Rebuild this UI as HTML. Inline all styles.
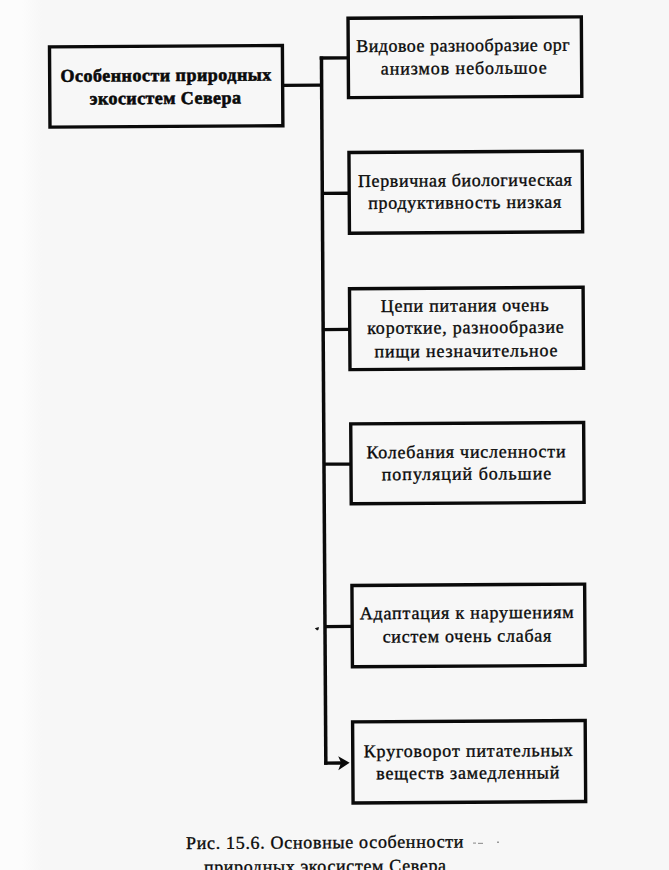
<!DOCTYPE html>
<html><head><meta charset="utf-8"><style>
html,body{margin:0;padding:0;background:#f8f8f8;}
body{background:linear-gradient(to right,#fcfcfc 0px,#fcfcfc 22px,#f7f7f7 42px,#f7f7f7 100%);}
body{width:669px;height:870px;overflow:hidden;position:relative;}
svg{position:absolute;left:0;top:0;}
.b{fill:none;stroke:#0a0a0a;stroke-width:3.4;}
.c{stroke:#0a0a0a;stroke-width:3.3;}
text{font-family:"Liberation Serif",serif;font-size:18px;fill:#0a0a0a;text-anchor:middle;stroke:#0a0a0a;stroke-width:0.35px;}
.tb{font-weight:bold;stroke-width:0.6px;}
.tc{stroke-width:0.35px;}
</style></head><body>
<svg width="669" height="870" viewBox="0 0 669 870">
<g transform="rotate(-0.355)">
<rect x="49.20" y="47.20" width="232.90" height="80.25" class="b"/>
<rect x="347.90" y="20.45" width="233.30" height="79.35" class="b"/>
<rect x="348.00" y="154.70" width="233.20" height="80.70" class="b"/>
<rect x="347.70" y="290.90" width="233.60" height="80.90" class="b"/>
<rect x="348.10" y="426.10" width="232.90" height="79.90" class="b"/>
<rect x="348.30" y="587.70" width="232.70" height="81.30" class="b"/>
<rect x="348.10" y="724.10" width="232.60" height="81.00" class="b"/>
<line x1="321.1" y1="58.5" x2="321.1" y2="766.7" class="c" style="stroke-width:3.5px"/>
<line x1="283" y1="87.1" x2="321.1" y2="87.1" class="c"/>
<line x1="319.35" y1="60.0" x2="347.5" y2="60.0" class="c"/>
<line x1="321.1" y1="195.4" x2="347.5" y2="195.4" class="c"/>
<line x1="321.1" y1="331.6" x2="347.5" y2="331.6" class="c"/>
<line x1="321.1" y1="466.2" x2="347.5" y2="466.2" class="c"/>
<line x1="321.1" y1="628.6" x2="347.5" y2="628.6" class="c"/>
<line x1="319.35" y1="765.1" x2="337" y2="765.1" class="c"/>
<path d="M344.9,764.9 L333.5,758.3 L336.4,764.9 L333.5,772.3 Z" fill="#0a0a0a"/>
<text x="165.4" y="82.2" class="tb" textLength="210.9" lengthAdjust="spacing">Особенности природных</text>
<text x="164.7" y="105.0" class="tb" textLength="151.1" lengthAdjust="spacing">экосистем Севера</text>
<text x="462.6" y="54.2" class="tr" textLength="213.4" lengthAdjust="spacing">Видовое разнообразие орг</text>
<text x="463.3" y="76.9" class="tr" textLength="166.0" lengthAdjust="spacing">анизмов небольшое</text>
<text x="463.8" y="189.1" class="tr" textLength="213.9" lengthAdjust="spacing">Первичная биологическая</text>
<text x="463.4" y="211.2" class="tr" textLength="193.0" lengthAdjust="spacing">продуктивность низкая</text>
<text x="462.8" y="314.3" class="tr" textLength="167.8" lengthAdjust="spacing">Цепи питания очень</text>
<text x="463.5" y="336.2" class="tr" textLength="196.6" lengthAdjust="spacing">короткие, разнообразие</text>
<text x="463.8" y="359.7" class="tr" textLength="183.1" lengthAdjust="spacing">пищи незначительное</text>
<text x="463.2" y="460.6" class="tr" textLength="199.2" lengthAdjust="spacing">Колебания численности</text>
<text x="463.5" y="482.6" class="tr" textLength="169.6" lengthAdjust="spacing">популяций большие</text>
<text x="462.9" y="621.5" class="tr" textLength="213.9" lengthAdjust="spacing">Адаптация к нарушениям</text>
<text x="463.0" y="644.9" class="tr" textLength="168.7" lengthAdjust="spacing">систем очень слабая</text>
<text x="463.6" y="759.6" class="tr" textLength="209.1" lengthAdjust="spacing">Круговорот питательных</text>
<text x="463.0" y="781.7" class="tr" textLength="183.1" lengthAdjust="spacing">веществ замедленный</text>
<text x="319.5" y="850.2" class="tc" textLength="277.5" lengthAdjust="spacing">Рис. 15.6. Основные особенности</text>
<text x="319.6" y="874.2" class="tc" textLength="242.2" lengthAdjust="spacing">природных экосистем Севера</text>
</g>
<path d="M314.8,628.2 L318.9,626.9 L318.6,629.6 L317.2,630.6 Z" fill="#111"/>
<g fill="#9a9a9a"><rect x="473" y="842.5" width="3" height="1.2"/><rect x="478" y="842.8" width="5" height="1.2"/><rect x="497" y="841.5" width="2" height="1.5"/></g>
</svg>
</body></html>
